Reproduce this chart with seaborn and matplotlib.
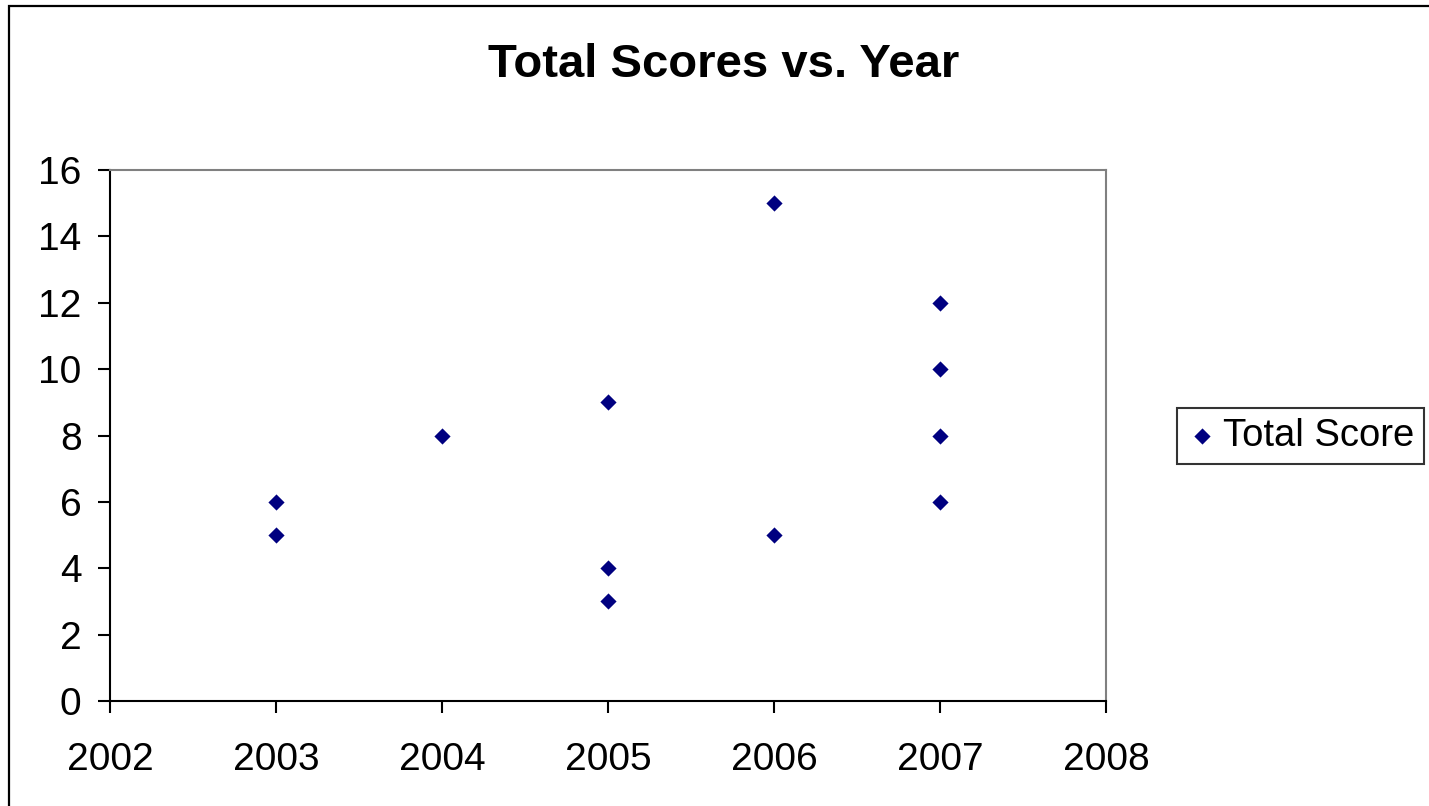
import matplotlib
matplotlib.use("Agg")
import matplotlib.pyplot as plt
from matplotlib.patches import Rectangle
import pandas as pd
import seaborn as sns

# Scores recorded per year
years = [2003, 2003, 2004, 2005, 2005, 2005, 2006, 2006, 2007, 2007, 2007, 2007]
scores = [6, 5, 8, 9, 4, 3, 15, 5, 12, 10, 8, 6]

x_ticks = [2002, 2003, 2004, 2005, 2006, 2007, 2008]
y_ticks = [0, 2, 4, 6, 8, 10, 12, 14, 16]

df = pd.DataFrame({"Year": years, "Total Score": scores})

sns.set_theme(style="white")
plt.rcParams["font.family"] = ["Liberation Sans", "DejaVu Sans"]
plt.rcParams["text.color"] = "black"

fig = plt.figure(figsize=(14.29, 8.06), dpi=100)
ax = fig.add_axes([110 / 1429, 1 - 701 / 806, (1106 - 110) / 1429, (701 - 170) / 806])

sns.scatterplot(data=df, x="Year", y="Total Score", ax=ax, marker="D",
                color="#000080", s=68, edgecolor="#000080", linewidth=0,
                label="Total Score", zorder=3)

ax.set_xlim(2002, 2008)
ax.set_ylim(0, 16)
ax.set_xticks(x_ticks)
ax.set_yticks(y_ticks)
ax.set_xticklabels([str(v) for v in x_ticks])
ax.set_yticklabels([str(v) for v in y_ticks])
ax.set_xlabel("")
ax.set_ylabel("")
ax.grid(False)

for side in ("left", "bottom"):
    ax.spines[side].set_color("black")
    ax.spines[side].set_linewidth(1.5)
for side in ("top", "right"):
    ax.spines[side].set_color("#808080")
    ax.spines[side].set_linewidth(1.5)

ax.tick_params(axis="both", direction="out", length=8.5, width=1.5,
               color="black", labelsize=28, labelcolor="black")
ax.tick_params(axis="y", pad=12)
ax.tick_params(axis="x", pad=21)
ax.tick_params(bottom=True, left=True)

fig.text(724 / 1429, 1 - 65 / 806, "Total Scores vs. Year", ha="center",
         va="center", fontsize=34, fontweight="bold", color="black")

leg = ax.legend(loc="center left", bbox_to_anchor=(1177 / 1429, 1 - 436 / 806),
                bbox_transform=fig.transFigure, frameon=True, fancybox=False,
                fontsize=27.5, handletextpad=0.15, borderpad=0.25,
                handlelength=0.8, borderaxespad=0, labelcolor="black")
leg.get_frame().set_edgecolor("black")
leg.get_frame().set_linewidth(1.5)

# Outer chart border
fig.patches.append(Rectangle((9 / 1429, -0.05), 1.1, 1 - 6 / 806 + 0.05,
                             transform=fig.transFigure, fill=False,
                             edgecolor="black", linewidth=1.6))

fig.savefig("out.png", dpi=100)
